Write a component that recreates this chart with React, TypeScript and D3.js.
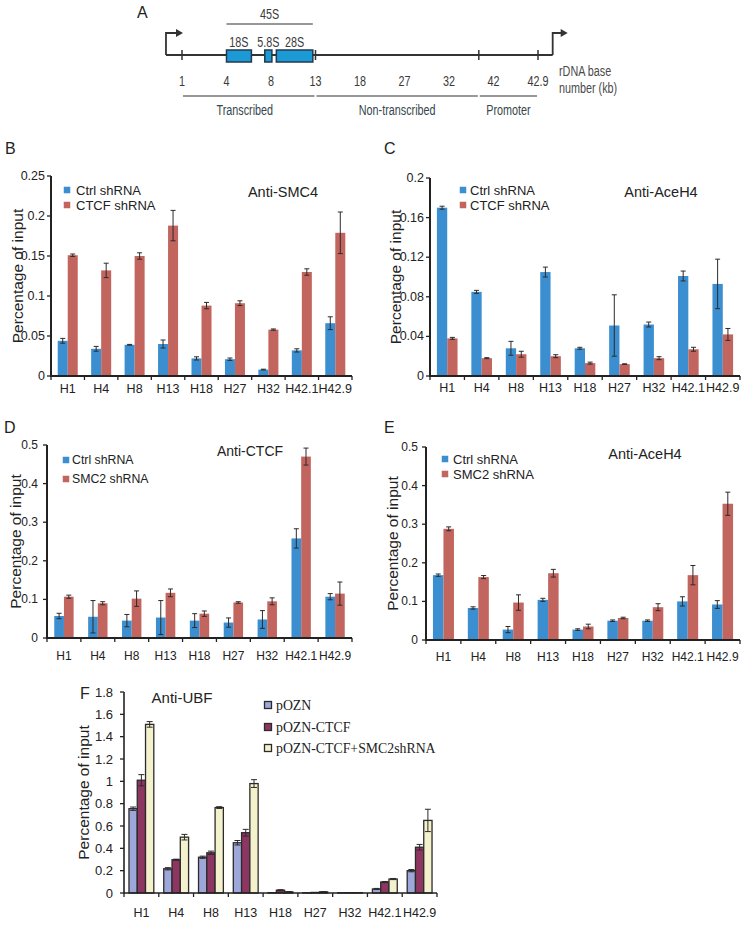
import React from "react";
import * as d3 from "d3";

const categories = ["H1", "H4", "H8", "H13", "H18", "H27", "H32", "H42.1", "H42.9"];

// Panel A
const rdnaLabels = ["1", "4", "8", "13", "18", "27", "32", "42", "42.9"];
const geneNames = ["18S", "5.8S", "28S"];
const geneStart = [1.0, 1.86, 2.12];
const geneEnd = [1.56, 2.02, 2.94];
const regionNames = ["Transcribed", "Non-transcribed", "Promoter"];
const regionStart = [0, 3, 6.67];
const regionEnd = [3, 6.67, 8];

// Panel B  Anti-SMC4
const bCtrl = [0.044, 0.034, 0.039, 0.04, 0.022, 0.021, 0.008, 0.032, 0.066];
const bCtrlErr = [0.003, 0.003, 0.0005, 0.005, 0.002, 0.0015, 0.0005, 0.002, 0.008];
const bCtcf = [0.151, 0.132, 0.15, 0.188, 0.088, 0.091, 0.058, 0.13, 0.179];
const bCtcfErr = [0.0015, 0.009, 0.004, 0.019, 0.004, 0.003, 0.0008, 0.004, 0.026];
const bTicks = [0, 0.05, 0.1, 0.15, 0.2, 0.25];
const bTickLabels = ["0", "0.05", "0.1", "0.15", "0.2", "0.25"];

// Panel C  Anti-AceH4
const cCtrl = [0.17, 0.085, 0.028, 0.105, 0.028, 0.051, 0.052, 0.101, 0.093];
const cCtrlErr = [0.0015, 0.0015, 0.007, 0.005, 0.001, 0.031, 0.0025, 0.005, 0.025];
const cCtcf = [0.038, 0.018, 0.022, 0.02, 0.013, 0.012, 0.018, 0.027, 0.042];
const cCtcfErr = [0.001, 0.0005, 0.003, 0.0015, 0.001, 0.0003, 0.0015, 0.002, 0.006];
const cTicks = [0, 0.04, 0.08, 0.12, 0.16, 0.2];
const cTickLabels = ["0", "0.04", "0.08", "0.12", "0.16", "0.2"];

// Panel D  Anti-CTCF
const dCtrl = [0.057, 0.055, 0.045, 0.053, 0.045, 0.04, 0.048, 0.258, 0.107];
const dCtrlErr = [0.007, 0.042, 0.016, 0.044, 0.018, 0.012, 0.023, 0.025, 0.008];
const dSmc2 = [0.107, 0.09, 0.102, 0.117, 0.063, 0.092, 0.095, 0.47, 0.115];
const dSmc2Err = [0.004, 0.004, 0.02, 0.01, 0.007, 0.002, 0.009, 0.022, 0.03];
const deTicks = [0, 0.1, 0.2, 0.3, 0.4, 0.5];
const deTickLabels = ["0", "0.1", "0.2", "0.3", "0.4", "0.5"];

// Panel E  Anti-AceH4
const eCtrl = [0.168, 0.083, 0.027, 0.104, 0.027, 0.05, 0.05, 0.1, 0.092];
const eCtrlErr = [0.003, 0.003, 0.008, 0.004, 0.002, 0.002, 0.002, 0.012, 0.01];
const eSmc2 = [0.288, 0.163, 0.097, 0.173, 0.035, 0.057, 0.085, 0.168, 0.353];
const eSmc2Err = [0.005, 0.004, 0.02, 0.01, 0.006, 0.002, 0.009, 0.025, 0.03];

// Panel F  Anti-UBF
const fPozn = [0.755, 0.217, 0.32, 0.45, 0.003, 0.002, 0.002, 0.036, 0.2];
const fPoznErr = [0.015, 0.01, 0.01, 0.02, 0, 0, 0, 0.005, 0.01];
const fCtcf = [1.01, 0.298, 0.36, 0.54, 0.025, 0.005, 0.003, 0.098, 0.41];
const fCtcfErr = [0.05, 0.005, 0.015, 0.03, 0.005, 0, 0, 0.005, 0.025];
const fSmc2 = [1.51, 0.5, 0.765, 0.98, 0.01, 0.01, 0.003, 0.125, 0.65];
const fSmc2Err = [0.025, 0.025, 0.008, 0.035, 0.003, 0.002, 0, 0.005, 0.1];
const fTicks = [0, 0.2, 0.4, 0.6, 0.8, 1, 1.2, 1.4, 1.6, 1.8];
const fTickLabels = ["0", "0.2", "0.4", "0.6", "0.8", "1", "1.2", "1.4", "1.6", "1.8"];
const fLegend = ["pOZN", "pOZN-CTCF", "pOZN-CTCF+SMC2shRNA"];

const SANS = "'Liberation Sans', Arial, Helvetica, sans-serif";
const SERIF = "'Liberation Serif', 'Times New Roman', serif";
const BLUE = "#3b8fd0";
const RED = "#c3655f";
const INK = "#222";

type Series = { values: number[]; errs: number[]; color: string };

type PanelProps = {
  x0: number; x1: number; yTop: number; yBot: number; max: number;
  ticks: number[]; tickLabels: string[]; series: Series[];
  padOuter: number; tickFont: number; xFont: number; xLabelOffset: number;
  tickGap: number; yTitleX: number; outline?: boolean; axisWidth: number;
  capW: number;
};

function BarPanel(p: PanelProps) {
  const x = d3.scaleBand<string>().domain(categories).range([p.x0, p.x1]);
  const names = p.series.map((_, i) => String(i));
  const xi = d3.scaleBand<string>().domain(names).range([0, x.bandwidth()]).paddingInner(0).paddingOuter(p.padOuter);
  const y = d3.scaleLinear().domain([0, p.max]).range([p.yBot, p.yTop]);
  const bounds = d3.range(categories.length + 1).map((i) => p.x0 + i * x.step());
  const midY = (p.yTop + p.yBot) / 2;
  return (
    <g>
      {p.series.map((s, si) =>
        categories.map((c, ci) => {
          const v = s.values[ci];
          const bx = (x(c) as number) + (xi(String(si)) as number);
          const bw = xi.bandwidth();
          return (
            <rect key={`b${si}-${ci}`} x={bx} y={y(v)} width={bw} height={Math.max(0, y(0) - y(v))}
              fill={s.color} stroke={p.outline ? "#2b2b2b" : "none"} strokeWidth={p.outline ? 1.3 : 0} />
          );
        })
      )}
      {p.series.map((s, si) =>
        categories.map((c, ci) => {
          const v = s.values[ci];
          const e = s.errs[ci];
          if (!e) return null;
          const cx = (x(c) as number) + (xi(String(si)) as number) + xi.bandwidth() / 2;
          const y1 = y(v + e), y2 = y(Math.max(0, v - e));
          return (
            <g key={`e${si}-${ci}`} stroke="#2e2a2a" strokeWidth={1}>
              <line x1={cx} x2={cx} y1={y1} y2={y2} />
              <line x1={cx - p.capW / 2} x2={cx + p.capW / 2} y1={y1} y2={y1} />
              <line x1={cx - p.capW / 2} x2={cx + p.capW / 2} y1={y2} y2={y2} />
            </g>
          );
        })
      )}
      <line x1={p.x0} x2={p.x0} y1={p.yTop} y2={p.yBot + p.axisWidth / 2} stroke={INK} strokeWidth={p.axisWidth} />
      {p.ticks.map((t, i) => (
        <g key={`yt${i}`}>
          <line x1={p.x0 - 4} x2={p.x0} y1={y(t)} y2={y(t)} stroke={INK} strokeWidth={1.3} />
          <text x={p.x0 - p.tickGap} y={y(t)} textAnchor="end" dominantBaseline="central"
            fontSize={p.tickFont} fontFamily={SANS} fill={INK}>{p.tickLabels[i]}</text>
        </g>
      ))}
      <line x1={p.x0} x2={p.x1} y1={p.yBot} y2={p.yBot} stroke={INK} strokeWidth={p.axisWidth} />
      {bounds.map((b, i) => (
        <line key={`xt${i}`} x1={b} x2={b} y1={p.yBot} y2={p.yBot + 4} stroke={INK} strokeWidth={1.3} />
      ))}
      {categories.map((c) => (
        <text key={`xl${c}`} x={(x(c) as number) + x.bandwidth() / 2} y={p.yBot + p.xLabelOffset}
          textAnchor="middle" dominantBaseline="central" fontSize={p.xFont} fontFamily={SANS} fill={INK}>{c}</text>
      ))}
      <text transform={`translate(${p.yTitleX},${midY}) rotate(-90)`} textAnchor="middle" dominantBaseline="central"
        fontSize={15.5} fontFamily={SANS} fill={INK}>Percentage of input</text>
    </g>
  );
}

function Legend({ x, ys, labels, colors, font, textX, size, family, outline }:
  { x: number; ys: number[]; labels: string[]; colors: string[]; font: number; textX: number; size: number; family: string; outline?: boolean }) {
  return (
    <g>
      {labels.map((l, i) => (
        <g key={l}>
          <rect x={x - size / 2} y={ys[i] - size / 2} width={size} height={size} fill={colors[i]}
            stroke={outline ? "#2b2b2b" : "none"} strokeWidth={outline ? 1.3 : 0} />
          <text x={textX} y={ys[i]} dominantBaseline="central" fontSize={font} fontFamily={family} fill={INK}>{l}</text>
        </g>
      ))}
    </g>
  );
}

function PanelA() {
  const px = d3.scalePoint<number>().domain(d3.range(rdnaLabels.length)).range([182, 538]);
  const step = px.step();
  const pos = (t: number) => (px(0) as number) + t * step;
  const lineY = 55;
  const cond = (tx: number, ty: number, s: string, anchor: string, fill = "#3a3a3a", key?: string) => (
    <text key={key} transform={`translate(${tx},${ty}) scale(0.72,1)`} textAnchor={anchor} dominantBaseline="central"
      fontSize={15} fontFamily={SANS} fill={fill}>{s}</text>
  );
  const leftX = pos(-0.36);
  const rightX = pos(8.33);
  return (
    <g>
      <line x1={leftX} x2={rightX} y1={lineY} y2={lineY} stroke="#333" strokeWidth={1.8} />
      <path d={`M${leftX},${lineY} V33 H${leftX + 11}`} fill="none" stroke="#333" strokeWidth={1.8} />
      <path d={`M${leftX + 10},29 L${leftX + 17},33 L${leftX + 10},37 Z`} fill="#333" />
      <path d={`M${rightX},${lineY} V33 H${rightX + 9}`} fill="none" stroke="#333" strokeWidth={1.8} />
      <path d={`M${rightX + 8},29 L${rightX + 15},33 L${rightX + 8},37 Z`} fill="#333" />
      {[0, 3, 6.67, 8].map((t) => (
        <line key={`t${t}`} x1={pos(t)} x2={pos(t)} y1={lineY - 5} y2={lineY + 5} stroke="#333" strokeWidth={1.5} />
      ))}
      {geneNames.map((g, i) => (
        <g key={g}>
          <rect x={pos(geneStart[i])} y={50} width={pos(geneEnd[i]) - pos(geneStart[i])} height={12}
            fill="#1c9ad6" stroke="#23394f" strokeWidth={1.5} />
          {cond((pos(geneStart[i]) + pos(geneEnd[i])) / 2, 42, g, "middle")}
        </g>
      ))}
      <line x1={pos(geneStart[0])} x2={pos(geneEnd[2])} y1={24} y2={24} stroke="#333" strokeWidth={1.2} />
      {cond((pos(geneStart[0]) + pos(geneEnd[2])) / 2, 14, "45S", "middle")}
      {rdnaLabels.map((l, i) => cond(px(i) as number, 81, l, "middle", "#3a3a3a", `n${i}`))}
      {cond(559, 71, "rDNA base", "start", "#4a4a4a")}
      {cond(559, 88, "number (kb)", "start", "#4a4a4a")}
      {regionNames.map((r, i) => (
        <g key={r}>
          <line x1={pos(regionStart[i]) + 1} x2={pos(regionEnd[i]) - 1} y1={96} y2={96} stroke="#333" strokeWidth={1.2} />
          {cond((pos(regionStart[i]) + pos(regionEnd[i])) / 2 - (i === 0 ? 4 : 0), 110, r, "middle", "#36474d")}
        </g>
      ))}
    </g>
  );
}

const letter = (l: string, x: number, y: number) => (
  <text x={x} y={y} dominantBaseline="central" fontSize={16} fontFamily={SANS} fill={INK}>{l}</text>
);
const title = (t: string, x: number, y: number, size = 14.5) => (
  <text x={x} y={y} textAnchor="middle" dominantBaseline="central" fontSize={size} fontFamily={SANS} fill={INK}>{t}</text>
);

export default function App() {
  return (
    <svg width={741} height={929} style={{ position: "absolute", left: 0, top: 0, background: "#fff" }}>
      <rect width={741} height={929} fill="#fff" />
      {letter("A", 137, 12)}
      <PanelA />

      {letter("B", 5, 148)}
      <BarPanel x0={51} x1={352} yTop={176} yBot={376} max={0.25} ticks={bTicks} tickLabels={bTickLabels}
        series={[{ values: bCtrl, errs: bCtrlErr, color: BLUE }, { values: bCtcf, errs: bCtcfErr, color: RED }]}
        padOuter={0.67} tickFont={12.5} xFont={12.5} xLabelOffset={13} tickGap={6} yTitleX={17} axisWidth={2} capW={5} />
      <Legend x={67} ys={[190, 205]} labels={["Ctrl shRNA", "CTCF shRNA"]} colors={[BLUE, RED]} font={13} textX={76} size={6.5} family={SANS} />
      {title("Anti-SMC4", 283, 192)}

      {letter("C", 384, 148)}
      <BarPanel x0={430} x1={740} yTop={178} yBot={376} max={0.2} ticks={cTicks} tickLabels={cTickLabels}
        series={[{ values: cCtrl, errs: cCtrlErr, color: BLUE }, { values: cCtcf, errs: cCtcfErr, color: RED }]}
        padOuter={0.67} tickFont={12.5} xFont={12.5} xLabelOffset={12} tickGap={6} yTitleX={395} axisWidth={2} capW={5} />
      <Legend x={463} ys={[190, 205]} labels={["Ctrl shRNA", "CTCF shRNA"]} colors={[BLUE, RED]} font={13} textX={470} size={6.5} family={SANS} />
      {title("Anti-AceH4", 661, 192)}

      {letter("D", 4, 427)}
      <BarPanel x0={47} x1={352} yTop={445} yBot={638} max={0.5} ticks={deTicks} tickLabels={deTickLabels}
        series={[{ values: dCtrl, errs: dCtrlErr, color: BLUE }, { values: dSmc2, errs: dSmc2Err, color: RED }]}
        padOuter={0.75} tickFont={12} xFont={12} xLabelOffset={18} tickGap={9} yTitleX={15} axisWidth={2} capW={5} />
      <Legend x={66} ys={[460, 479]} labels={["Ctrl shRNA", "SMC2 shRNA"]} colors={[BLUE, RED]} font={12.3} textX={72} size={6.5} family={SANS} />
      {title("Anti-CTCF", 250, 451, 14)}

      {letter("E", 384, 427)}
      <BarPanel x0={426} x1={740} yTop={447} yBot={640} max={0.5} ticks={deTicks} tickLabels={deTickLabels}
        series={[{ values: eCtrl, errs: eCtrlErr, color: BLUE }, { values: eSmc2, errs: eSmc2Err, color: RED }]}
        padOuter={0.66} tickFont={12} xFont={12} xLabelOffset={17} tickGap={8} yTitleX={392} axisWidth={2} capW={5} />
      <Legend x={445} ys={[459, 474]} labels={["Ctrl shRNA", "SMC2 shRNA"]} colors={[BLUE, RED]} font={13} textX={453} size={6.5} family={SANS} />
      {title("Anti-AceH4", 645, 454)}

      {letter("F", 80, 693)}
      <BarPanel x0={124} x1={437} yTop={692} yBot={893} max={1.8} ticks={fTicks} tickLabels={fTickLabels}
        series={[{ values: fPozn, errs: fPoznErr, color: "#9ea7d9" }, { values: fCtcf, errs: fCtcfErr, color: "#8e3662" }, { values: fSmc2, errs: fSmc2Err, color: "#f3f2cd" }]}
        padOuter={0.6} tickFont={13} xFont={12.5} xLabelOffset={20} tickGap={11} yTitleX={83} axisWidth={1.6} capW={6} outline />
      <Legend x={268} ys={[705, 727, 748]} labels={fLegend} colors={["#9ea7d9", "#8e3662", "#f3f2cd"]} font={13.8} textX={276} size={7} family={SERIF} outline />
      {title("Anti-UBF", 182, 697, 15)}
    </svg>
  );
}
